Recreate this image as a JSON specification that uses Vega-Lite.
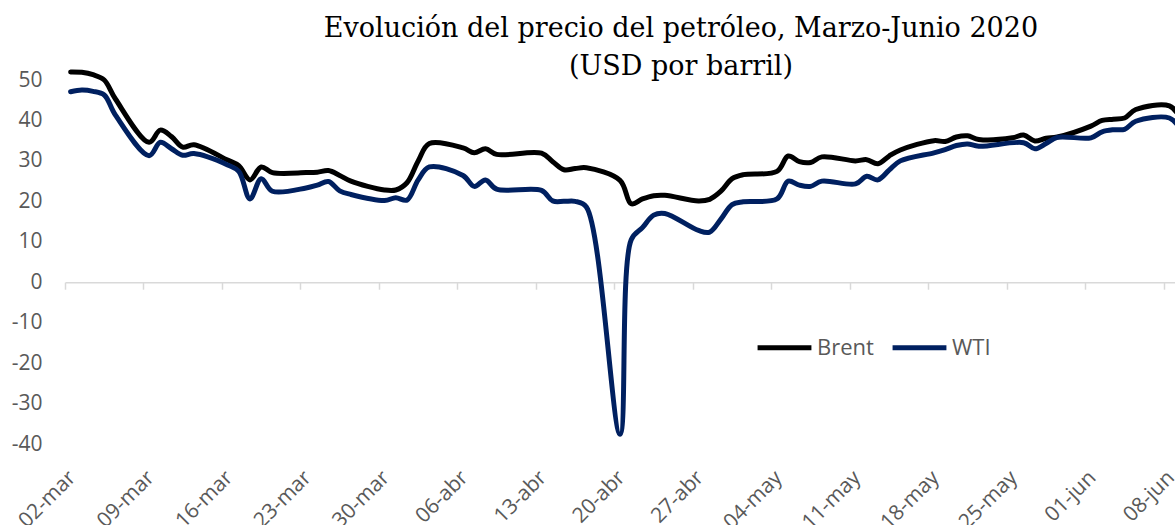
{
  "$schema": "https://vega.github.io/schema/vega-lite/v6.json",
  "width": 1110,
  "height": 364,
  "autosize": "none",
  "padding": {"left": 65, "top": 80, "right": 0, "bottom": 81},
  "background": "white",
  "title": {
    "text": ["Evolución del precio del petróleo, Marzo-Junio 2020", "(USD por barril)"],
    "font": "DejaVu Serif",
    "fontSize": 27,
    "fontWeight": "normal",
    "color": "#000000",
    "lineHeight": 38,
    "anchor": "middle",
    "dx": 61,
    "offset": -12
  },
  "config": {
    "view": {"stroke": null},
    "font": "Open Sans"
  },
  "data": {
    "values": [
      {"date": "2020-03-02T12:00:00", "serie": "Brent", "precio": 52.0},
      {"date": "2020-03-03T12:00:00", "serie": "Brent", "precio": 51.9},
      {"date": "2020-03-04T12:00:00", "serie": "Brent", "precio": 51.3},
      {"date": "2020-03-05T12:00:00", "serie": "Brent", "precio": 50.0},
      {"date": "2020-03-06T12:00:00", "serie": "Brent", "precio": 45.3},
      {"date": "2020-03-09T12:00:00", "serie": "Brent", "precio": 34.6},
      {"date": "2020-03-10T12:00:00", "serie": "Brent", "precio": 37.6},
      {"date": "2020-03-11T12:00:00", "serie": "Brent", "precio": 36.0},
      {"date": "2020-03-12T12:00:00", "serie": "Brent", "precio": 33.4},
      {"date": "2020-03-13T12:00:00", "serie": "Brent", "precio": 34.0},
      {"date": "2020-03-16T12:00:00", "serie": "Brent", "precio": 30.2},
      {"date": "2020-03-17T12:00:00", "serie": "Brent", "precio": 28.8},
      {"date": "2020-03-18T12:00:00", "serie": "Brent", "precio": 25.3},
      {"date": "2020-03-19T12:00:00", "serie": "Brent", "precio": 28.5},
      {"date": "2020-03-20T12:00:00", "serie": "Brent", "precio": 27.1},
      {"date": "2020-03-23T12:00:00", "serie": "Brent", "precio": 27.1},
      {"date": "2020-03-24T12:00:00", "serie": "Brent", "precio": 27.2},
      {"date": "2020-03-25T12:00:00", "serie": "Brent", "precio": 27.6},
      {"date": "2020-03-26T12:00:00", "serie": "Brent", "precio": 26.4},
      {"date": "2020-03-27T12:00:00", "serie": "Brent", "precio": 25.0},
      {"date": "2020-03-30T12:00:00", "serie": "Brent", "precio": 22.8},
      {"date": "2020-03-31T12:00:00", "serie": "Brent", "precio": 22.8},
      {"date": "2020-04-01T12:00:00", "serie": "Brent", "precio": 24.6},
      {"date": "2020-04-02T12:00:00", "serie": "Brent", "precio": 30.0},
      {"date": "2020-04-03T12:00:00", "serie": "Brent", "precio": 34.3},
      {"date": "2020-04-06T12:00:00", "serie": "Brent", "precio": 33.2},
      {"date": "2020-04-07T12:00:00", "serie": "Brent", "precio": 32.0},
      {"date": "2020-04-08T12:00:00", "serie": "Brent", "precio": 33.0},
      {"date": "2020-04-09T12:00:00", "serie": "Brent", "precio": 31.6},
      {"date": "2020-04-13T12:00:00", "serie": "Brent", "precio": 31.9},
      {"date": "2020-04-14T12:00:00", "serie": "Brent", "precio": 29.8},
      {"date": "2020-04-15T12:00:00", "serie": "Brent", "precio": 27.8},
      {"date": "2020-04-16T12:00:00", "serie": "Brent", "precio": 28.1},
      {"date": "2020-04-17T12:00:00", "serie": "Brent", "precio": 28.3},
      {"date": "2020-04-20T12:00:00", "serie": "Brent", "precio": 25.2},
      {"date": "2020-04-21T12:00:00", "serie": "Brent", "precio": 19.4},
      {"date": "2020-04-22T12:00:00", "serie": "Brent", "precio": 20.6},
      {"date": "2020-04-23T12:00:00", "serie": "Brent", "precio": 21.4},
      {"date": "2020-04-24T12:00:00", "serie": "Brent", "precio": 21.5},
      {"date": "2020-04-27T12:00:00", "serie": "Brent", "precio": 20.1},
      {"date": "2020-04-28T12:00:00", "serie": "Brent", "precio": 20.5},
      {"date": "2020-04-29T12:00:00", "serie": "Brent", "precio": 22.5},
      {"date": "2020-04-30T12:00:00", "serie": "Brent", "precio": 25.6},
      {"date": "2020-05-01T12:00:00", "serie": "Brent", "precio": 26.6},
      {"date": "2020-05-04T12:00:00", "serie": "Brent", "precio": 27.4},
      {"date": "2020-05-05T12:00:00", "serie": "Brent", "precio": 31.2},
      {"date": "2020-05-06T12:00:00", "serie": "Brent", "precio": 29.8},
      {"date": "2020-05-07T12:00:00", "serie": "Brent", "precio": 29.6},
      {"date": "2020-05-08T12:00:00", "serie": "Brent", "precio": 31.0},
      {"date": "2020-05-11T12:00:00", "serie": "Brent", "precio": 30.0},
      {"date": "2020-05-12T12:00:00", "serie": "Brent", "precio": 30.3},
      {"date": "2020-05-13T12:00:00", "serie": "Brent", "precio": 29.3},
      {"date": "2020-05-14T12:00:00", "serie": "Brent", "precio": 31.2},
      {"date": "2020-05-15T12:00:00", "serie": "Brent", "precio": 32.7},
      {"date": "2020-05-18T12:00:00", "serie": "Brent", "precio": 35.0},
      {"date": "2020-05-19T12:00:00", "serie": "Brent", "precio": 34.8},
      {"date": "2020-05-20T12:00:00", "serie": "Brent", "precio": 35.9},
      {"date": "2020-05-21T12:00:00", "serie": "Brent", "precio": 36.2},
      {"date": "2020-05-22T12:00:00", "serie": "Brent", "precio": 35.3},
      {"date": "2020-05-25T12:00:00", "serie": "Brent", "precio": 35.7},
      {"date": "2020-05-26T12:00:00", "serie": "Brent", "precio": 36.4},
      {"date": "2020-05-27T12:00:00", "serie": "Brent", "precio": 34.9},
      {"date": "2020-05-28T12:00:00", "serie": "Brent", "precio": 35.6},
      {"date": "2020-05-29T12:00:00", "serie": "Brent", "precio": 35.9},
      {"date": "2020-06-01T12:00:00", "serie": "Brent", "precio": 38.6},
      {"date": "2020-06-02T12:00:00", "serie": "Brent", "precio": 40.0},
      {"date": "2020-06-03T12:00:00", "serie": "Brent", "precio": 40.3},
      {"date": "2020-06-04T12:00:00", "serie": "Brent", "precio": 40.6},
      {"date": "2020-06-05T12:00:00", "serie": "Brent", "precio": 42.7},
      {"date": "2020-06-08T12:00:00", "serie": "Brent", "precio": 43.6},
      {"date": "2020-06-09T12:00:00", "serie": "Brent", "precio": 40.5},
      {"date": "2020-03-02T12:00:00", "serie": "WTI", "precio": 47.1},
      {"date": "2020-03-03T12:00:00", "serie": "WTI", "precio": 47.5},
      {"date": "2020-03-04T12:00:00", "serie": "WTI", "precio": 47.2},
      {"date": "2020-03-05T12:00:00", "serie": "WTI", "precio": 46.3},
      {"date": "2020-03-06T12:00:00", "serie": "WTI", "precio": 41.3},
      {"date": "2020-03-09T12:00:00", "serie": "WTI", "precio": 31.3},
      {"date": "2020-03-10T12:00:00", "serie": "WTI", "precio": 34.6},
      {"date": "2020-03-11T12:00:00", "serie": "WTI", "precio": 33.0},
      {"date": "2020-03-12T12:00:00", "serie": "WTI", "precio": 31.4},
      {"date": "2020-03-13T12:00:00", "serie": "WTI", "precio": 31.8},
      {"date": "2020-03-16T12:00:00", "serie": "WTI", "precio": 29.0},
      {"date": "2020-03-17T12:00:00", "serie": "WTI", "precio": 27.4},
      {"date": "2020-03-18T12:00:00", "serie": "WTI", "precio": 20.6},
      {"date": "2020-03-19T12:00:00", "serie": "WTI", "precio": 25.6},
      {"date": "2020-03-20T12:00:00", "serie": "WTI", "precio": 22.5},
      {"date": "2020-03-23T12:00:00", "serie": "WTI", "precio": 23.3},
      {"date": "2020-03-24T12:00:00", "serie": "WTI", "precio": 24.0},
      {"date": "2020-03-25T12:00:00", "serie": "WTI", "precio": 24.9},
      {"date": "2020-03-26T12:00:00", "serie": "WTI", "precio": 22.6},
      {"date": "2020-03-27T12:00:00", "serie": "WTI", "precio": 21.7},
      {"date": "2020-03-30T12:00:00", "serie": "WTI", "precio": 20.2},
      {"date": "2020-03-31T12:00:00", "serie": "WTI", "precio": 20.9},
      {"date": "2020-04-01T12:00:00", "serie": "WTI", "precio": 20.3},
      {"date": "2020-04-02T12:00:00", "serie": "WTI", "precio": 25.3},
      {"date": "2020-04-03T12:00:00", "serie": "WTI", "precio": 28.5},
      {"date": "2020-04-06T12:00:00", "serie": "WTI", "precio": 26.4},
      {"date": "2020-04-07T12:00:00", "serie": "WTI", "precio": 23.7},
      {"date": "2020-04-08T12:00:00", "serie": "WTI", "precio": 25.3},
      {"date": "2020-04-09T12:00:00", "serie": "WTI", "precio": 23.0},
      {"date": "2020-04-13T12:00:00", "serie": "WTI", "precio": 22.7},
      {"date": "2020-04-14T12:00:00", "serie": "WTI", "precio": 20.1},
      {"date": "2020-04-15T12:00:00", "serie": "WTI", "precio": 20.0},
      {"date": "2020-04-16T12:00:00", "serie": "WTI", "precio": 20.0},
      {"date": "2020-04-17T12:00:00", "serie": "WTI", "precio": 18.6},
      {"date": "2020-04-20T12:00:00", "serie": "WTI", "precio": -37.6},
      {"date": "2020-04-21T12:00:00", "serie": "WTI", "precio": 10.5},
      {"date": "2020-04-22T12:00:00", "serie": "WTI", "precio": 13.5},
      {"date": "2020-04-23T12:00:00", "serie": "WTI", "precio": 16.6},
      {"date": "2020-04-24T12:00:00", "serie": "WTI", "precio": 17.0},
      {"date": "2020-04-27T12:00:00", "serie": "WTI", "precio": 12.8},
      {"date": "2020-04-28T12:00:00", "serie": "WTI", "precio": 12.4},
      {"date": "2020-04-29T12:00:00", "serie": "WTI", "precio": 15.6},
      {"date": "2020-04-30T12:00:00", "serie": "WTI", "precio": 19.2},
      {"date": "2020-05-01T12:00:00", "serie": "WTI", "precio": 19.9},
      {"date": "2020-05-04T12:00:00", "serie": "WTI", "precio": 20.6},
      {"date": "2020-05-05T12:00:00", "serie": "WTI", "precio": 25.0},
      {"date": "2020-05-06T12:00:00", "serie": "WTI", "precio": 24.0},
      {"date": "2020-05-07T12:00:00", "serie": "WTI", "precio": 23.7},
      {"date": "2020-05-08T12:00:00", "serie": "WTI", "precio": 25.0},
      {"date": "2020-05-11T12:00:00", "serie": "WTI", "precio": 24.3},
      {"date": "2020-05-12T12:00:00", "serie": "WTI", "precio": 26.2},
      {"date": "2020-05-13T12:00:00", "serie": "WTI", "precio": 25.3},
      {"date": "2020-05-14T12:00:00", "serie": "WTI", "precio": 27.7},
      {"date": "2020-05-15T12:00:00", "serie": "WTI", "precio": 30.0},
      {"date": "2020-05-18T12:00:00", "serie": "WTI", "precio": 32.0},
      {"date": "2020-05-19T12:00:00", "serie": "WTI", "precio": 32.8},
      {"date": "2020-05-20T12:00:00", "serie": "WTI", "precio": 33.8},
      {"date": "2020-05-21T12:00:00", "serie": "WTI", "precio": 34.2},
      {"date": "2020-05-22T12:00:00", "serie": "WTI", "precio": 33.6},
      {"date": "2020-05-26T12:00:00", "serie": "WTI", "precio": 34.5},
      {"date": "2020-05-27T12:00:00", "serie": "WTI", "precio": 33.0},
      {"date": "2020-05-28T12:00:00", "serie": "WTI", "precio": 34.3},
      {"date": "2020-05-29T12:00:00", "serie": "WTI", "precio": 35.8},
      {"date": "2020-06-01T12:00:00", "serie": "WTI", "precio": 35.7},
      {"date": "2020-06-02T12:00:00", "serie": "WTI", "precio": 37.2},
      {"date": "2020-06-03T12:00:00", "serie": "WTI", "precio": 37.7},
      {"date": "2020-06-04T12:00:00", "serie": "WTI", "precio": 37.8},
      {"date": "2020-06-05T12:00:00", "serie": "WTI", "precio": 39.8},
      {"date": "2020-06-08T12:00:00", "serie": "WTI", "precio": 40.6},
      {"date": "2020-06-09T12:00:00", "serie": "WTI", "precio": 37.8}
    ]
  },
  "mark": {"type": "line", "strokeWidth": 5, "interpolate": "catmull-rom", "clip": false, "strokeCap": "round", "strokeJoin": "round"},
  "encoding": {
    "x": {
      "field": "date",
      "type": "temporal",
      "scale": {
        "domain": [{"year": 2020, "month": 3, "date": 2}, {"year": 2020, "month": 6, "date": 9}],
        "nice": false
      },
      "axis": {
        "title": null,
        "offset": -161.8,
        "values": [
          {"year": 2020, "month": 3, "date": 2},
          {"year": 2020, "month": 3, "date": 9},
          {"year": 2020, "month": 3, "date": 16},
          {"year": 2020, "month": 3, "date": 23},
          {"year": 2020, "month": 3, "date": 30},
          {"year": 2020, "month": 4, "date": 6},
          {"year": 2020, "month": 4, "date": 13},
          {"year": 2020, "month": 4, "date": 20},
          {"year": 2020, "month": 4, "date": 27},
          {"year": 2020, "month": 5, "date": 4},
          {"year": 2020, "month": 5, "date": 11},
          {"year": 2020, "month": 5, "date": 18},
          {"year": 2020, "month": 5, "date": 25},
          {"year": 2020, "month": 6, "date": 1},
          {"year": 2020, "month": 6, "date": 8}
        ],
        "labelExpr": "timeFormat(datum.value, '%d') + '-' + ['ene','feb','mar','abr','may','jun','jul','ago','sep','oct','nov','dic'][month(datum.value)]",
        "labelAngle": -45,
        "labelAlign": "right",
        "labelBaseline": "middle",
        "labelPadding": 185,
        "labelOffset": 7,
        "labelFont": "Open Sans",
        "labelFontSize": 21,
        "labelColor": "#595959",
        "labelOverlap": false,
        "labelFlush": false,
        "labelBound": false,
        "grid": false,
        "domain": true,
        "domainColor": "#d9d9d9",
        "domainWidth": 1.5,
        "ticks": true,
        "tickColor": "#d9d9d9",
        "tickWidth": 1.5,
        "tickSize": 7
      }
    },
    "y": {
      "field": "precio",
      "type": "quantitative",
      "scale": {"domain": [-40, 50], "nice": false, "zero": false},
      "axis": {
        "title": null,
        "values": [-40, -30, -20, -10, 0, 10, 20, 30, 40, 50],
        "labelExpr": "replace(datum.label, '\u2212', '-')",
        "grid": false,
        "domain": false,
        "ticks": false,
        "labelPadding": 23,
        "labelFont": "Open Sans",
        "labelFontSize": 21,
        "labelColor": "#595959"
      }
    },
    "color": {
      "field": "serie",
      "type": "nominal",
      "scale": {"domain": ["Brent", "WTI"], "range": ["#000000", "#002060"]},
      "legend": {
        "title": null,
        "orient": "none",
        "legendX": 690,
        "legendY": 238,
        "direction": "horizontal",
        "symbolType": "stroke",
        "symbolSize": 2900,
        "symbolStrokeWidth": 5,
        "labelFont": "Open Sans",
        "labelFontSize": 22,
        "labelColor": "#595959",
        "labelOffset": 3,
        "columnPadding": 8
      }
    }
  }
}
